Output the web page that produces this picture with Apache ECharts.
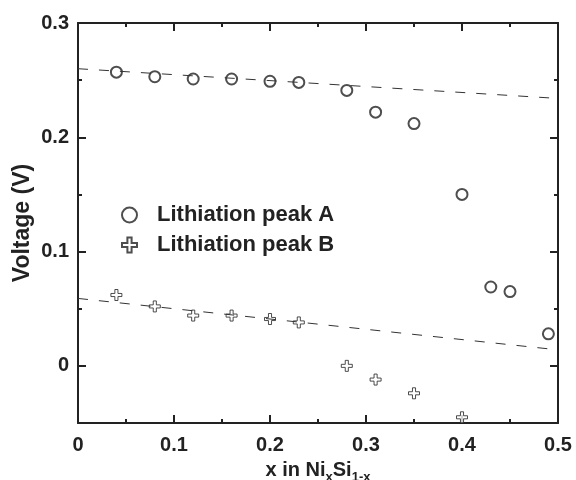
<!DOCTYPE html>
<html>
<head>
<meta charset="utf-8">
<script src="https://cdn.jsdelivr.net/npm/echarts@6/dist/echarts.min.js"></script>
<style>html,body{margin:0;padding:0;background:#fff}#c{width:576px;height:480px}</style>
</head>
<body>
<div id="c"></div>
<script>
// Lithiation peak A
var xA = [0.04, 0.08, 0.12, 0.16, 0.20, 0.23, 0.28, 0.31, 0.35, 0.40, 0.43, 0.45, 0.49];
var yA = [0.257, 0.253, 0.251, 0.251, 0.249, 0.248, 0.241, 0.222, 0.212, 0.150, 0.069, 0.065, 0.028];
// Lithiation peak B
var xB = [0.04, 0.08, 0.12, 0.16, 0.20, 0.23, 0.28, 0.31, 0.35, 0.40];
var yB = [0.062, 0.052, 0.044, 0.044, 0.041, 0.038, 0.000, -0.012, -0.024, -0.045];
// dashed fit lines (endpoints at x = 0 and x = 0.5)
var fitX = [0, 0.5];
var fitA = [0.260, 0.234];
var fitB = [0.059, 0.014];
// tick values
var yMajorTicks = [0, 0.1, 0.2, 0.3];

var FONT = "'Liberation Sans', Arial, sans-serif";
var INK = '#222';
function pairs(xs, ys) { return xs.map(function (x, i) { return [x, ys[i]]; }); }
var plusPath = 'path://M36,0 H64 V36 H100 V64 H64 V100 H36 V64 H0 V36 H36 Z';

var chart = echarts.init(document.getElementById('c'));
function lbl() { return { color: INK, fontFamily: FONT, fontWeight: 'bold', fontSize: 20 }; }
function axLine() { return { show: true, onZero: false, lineStyle: { color: INK, width: 2 } }; }

function xAx(pos, showLabel) {
  return {
    type: 'value', gridIndex: 0, position: pos, min: 0, max: 0.5, interval: 0.1,
    axisLine: axLine(),
    axisTick: { show: true, inside: true, length: 8, lineStyle: { color: INK, width: 2 } },
    minorTick: { show: true, splitNumber: 2, length: 4, lineStyle: { color: INK, width: 2 } },
    splitLine: { show: false },
    axisLabel: Object.assign({ show: showLabel, margin: 12, formatter: function (v) { return v === 0 ? '0' : v.toFixed(1); } }, lbl()),
    name: showLabel ? '{n|x in Ni}{s|x}{n|Si}{s|1-x}' : '',
    nameLocation: 'middle', nameGap: 37,
    nameTextStyle: {
      rich: {
        n: { color: INK, fontFamily: FONT, fontWeight: 'bold', fontSize: 20, verticalAlign: 'top', lineHeight: 24 },
        s: { color: INK, fontFamily: FONT, fontWeight: 'bold', fontSize: 13, verticalAlign: 'bottom', lineHeight: 8 }
      }
    }
  };
}
function yMajor(pos, showLabel) {
  return {
    type: 'value', gridIndex: 0, position: pos, min: -0.05, max: 0.3,
    axisLine: axLine(),
    axisTick: { show: true, inside: true, length: 8, customValues: yMajorTicks, lineStyle: { color: INK, width: 2 } },
    splitLine: { show: false },
    axisLabel: Object.assign({ show: showLabel, margin: 9, customValues: yMajorTicks, formatter: function (v) { return Math.abs(v) < 1e-9 ? '0' : v.toFixed(1); } }, lbl()),
    name: showLabel ? 'Voltage (V)' : '', nameLocation: 'middle', nameGap: 44, nameMoveOverlap: false,
    nameTextStyle: { color: INK, fontFamily: FONT, fontWeight: 'bold', fontSize: 23 }
  };
}
function yMinor(pos) {
  return {
    type: 'value', gridIndex: 0, position: pos, min: -0.05, max: 0.3, interval: 0.05,
    axisLine: { show: false, onZero: false },
    axisTick: { show: true, inside: true, length: 4, lineStyle: { color: INK, width: 2 } },
    splitLine: { show: false }, axisLabel: { show: false }
  };
}

chart.setOption({
  animation: false,
  backgroundColor: '#fff',
  grid: { left: 78, right: 18, top: 23, bottom: 57, containLabel: false, outerBoundsMode: 'none' },
  xAxis: [xAx('bottom', true), xAx('top', false)],
  yAxis: [yMajor('left', true), yMinor('left'), yMajor('right', false), yMinor('right')],
  legend: {
    orient: 'vertical', left: 116, top: 199, itemGap: 8, itemWidth: 15, itemHeight: 15,
    data: ['Lithiation peak A', 'Lithiation peak B'],
    textStyle: { color: INK, fontFamily: FONT, fontWeight: 'bold', fontSize: 22, padding: [0, 0, 0, 15] }
  },
  series: [
    { name: 'fitA', type: 'line', data: pairs(fitX, fitA), symbol: 'none', silent: true,
      lineStyle: { color: '#333', width: 1, type: [10, 11] } },
    { name: 'fitB', type: 'line', data: pairs(fitX, fitB), symbol: 'none', silent: true,
      lineStyle: { color: '#333', width: 1, type: [10, 11] } },
    { name: 'Lithiation peak A', type: 'scatter', data: pairs(xA, yA), symbol: 'emptyCircle', symbolSize: 11,
      itemStyle: { color: INK, borderColor: INK, borderWidth: 1 } },
    { name: 'Lithiation peak B', type: 'scatter', data: pairs(xB, yB), symbol: plusPath, symbolSize: 11,
      itemStyle: { color: '#fff', borderColor: INK, borderWidth: 1 } }
  ]
});
</script>
</body>
</html>
